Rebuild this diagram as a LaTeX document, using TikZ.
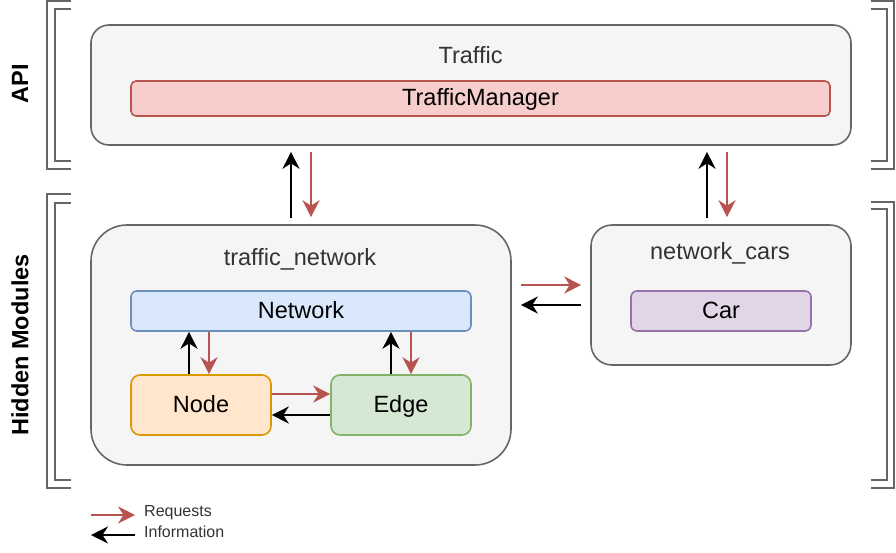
\documentclass[tikz,border=0pt]{standalone}
\usepackage{fontspec}
\setmainfont{Liberation Sans}
\usetikzlibrary{arrows.meta}
\definecolor{contfill}{HTML}{F5F5F5}
\definecolor{contline}{HTML}{666666}
\definecolor{conttext}{HTML}{333333}
\definecolor{redfill}{HTML}{F8CECC}
\definecolor{redline}{HTML}{B85450}
\definecolor{bluefill}{HTML}{DAE8FC}
\definecolor{blueline}{HTML}{6C8EBF}
\definecolor{orangefill}{HTML}{FFE6CC}
\definecolor{orangeline}{HTML}{D79B00}
\definecolor{greenfill}{HTML}{D5E8D4}
\definecolor{greenline}{HTML}{82B366}
\definecolor{purplefill}{HTML}{E1D5E7}
\definecolor{purpleline}{HTML}{9673A6}
\tikzset{
  container/.style={draw=contline, fill=contfill, line width=1.6pt, inner sep=0pt},
  inner/.style={line width=1.6pt, inner sep=0pt, text height=14pt, text depth=0pt,
    font=\fontsize{23.5}{28}\selectfont},
  title/.style={anchor=base, text=conttext, inner sep=0pt, font=\fontsize{23.5}{28}\selectfont},
  sidelabel/.style={rotate=90, inner sep=0pt, font=\fontsize{23.5}{28}\selectfont\bfseries},
  bracket/.style={draw=contline, line width=2pt},
  tipstyle/.style={-{Stealth[length=17pt,width=17pt,inset=5.5pt]}},
  req/.style={tipstyle, draw=redline, line width=2pt},
  info/.style={tipstyle, draw=black, line width=2pt},
  legendtext/.style={anchor=west, inner sep=0pt, text=conttext, font=\fontsize{16}{19}\selectfont},
}
\begin{document}
\begin{tikzpicture}[x=1pt,y=-1pt]
\useasboundingbox (0,0) rectangle (896,552);

% brackets
\draw[bracket] (71,1) -- (47,1) -- (47,169) -- (71,169);
\draw[bracket] (71,9) -- (55,9) -- (55,161) -- (71,161);
\draw[bracket] (871,1) -- (894,1) -- (894,169) -- (871,169);
\draw[bracket] (871,9) -- (887,9) -- (887,161) -- (871,161);
\draw[bracket] (71,194) -- (47,194) -- (47,488) -- (71,488);
\draw[bracket] (71,203) -- (55,203) -- (55,480) -- (71,480);
\draw[bracket] (871,202) -- (894,202) -- (894,488) -- (871,488);
\draw[bracket] (871,209) -- (887,209) -- (887,480) -- (871,480);
\node[sidelabel] (api) at (20,84) {API};
\node[sidelabel] (hidden) at (20,345) {Hidden Modules};

% containers
\node[container, rounded corners=18pt, minimum width=760pt, minimum height=120pt] (traffic) at (471,85) {};
\node[title] (traffictitle) at (470.5,63) {Traffic};
\node[inner, draw=redline, fill=redfill, rounded corners=5pt, minimum width=699pt, minimum height=35pt] (tm) at (480.5,98.5) {TrafficManager};

\node[container, rounded corners=36pt, minimum width=420pt, minimum height=240pt] (tn) at (301,345) {};
\node[title] (tntitle) at (300,265.7) {traffic\_network};
\node[inner, draw=blueline, fill=bluefill, rounded corners=6pt, minimum width=340pt, minimum height=40pt] (network) at (301,311) {Network};
\node[inner, draw=orangeline, fill=orangefill, rounded corners=9pt, minimum width=140pt, minimum height=60pt] (nodeb) at (201,405) {Node};
\node[inner, draw=greenline, fill=greenfill, rounded corners=9pt, minimum width=140pt, minimum height=60pt] (edgeb) at (401,405) {Edge};

\node[container, rounded corners=21pt, minimum width=260pt, minimum height=140pt] (nc) at (721,295) {};
\node[title] (nctitle) at (720,259) {network\_cars};
\node[inner, draw=purpleline, fill=purplefill, rounded corners=6pt, minimum width=180pt, minimum height=40pt] (car) at (721,311) {Car};

% traffic <-> traffic_network
\coordinate (a1) at ([xshift=-10pt]tn.north);
\coordinate (a2) at ([xshift=10pt]tn.north);
\draw[info, shorten <=6pt, shorten >=6pt] (a1) -- (a1 |- traffic.south);
\draw[req, shorten <=6pt, shorten >=7pt] (a2 |- traffic.south) -- (a2);

% traffic <-> network_cars
\coordinate (b1) at ([xshift=-14pt]nc.north);
\coordinate (b2) at ([xshift=6pt]nc.north);
\draw[info, shorten <=6pt, shorten >=6pt] (b1) -- (b1 |- traffic.south);
\draw[req, shorten <=6pt, shorten >=7pt] (b2 |- traffic.south) -- (b2);

% traffic_network <-> network_cars
\coordinate (c1) at ([yshift=60pt]tn.east);
\coordinate (c2) at ([yshift=40pt]tn.east);
\draw[req, shorten <=9pt, shorten >=9pt] (c1) -- (c1 -| nc.west);
\draw[info, shorten <=9pt, shorten >=9pt] (c2 -| nc.west) -- (c2);

% Node <-> Network
\coordinate (d1) at ([xshift=-12pt]nodeb.north);
\coordinate (d2) at ([xshift=8pt]nodeb.north);
\draw[info] (d1) -- (d1 |- network.south);
\draw[req] (d2 |- network.south) -- (d2);

% Edge <-> Network
\coordinate (e1) at ([xshift=-10pt]edgeb.north);
\coordinate (e2) at ([xshift=10pt]edgeb.north);
\draw[info] (e1) -- (e1 |- network.south);
\draw[req] (e2 |- network.south) -- (e2);

% Node <-> Edge
\coordinate (f1) at ([yshift=11pt]nodeb.east);
\coordinate (f2) at ([yshift=-10pt]nodeb.east);
\draw[req] (f1) -- (f1 -| edgeb.west);
\draw[info] (f2 -| edgeb.west) -- (f2);

% legend
\coordinate (l1a) at (91,515);
\coordinate (l1b) at (135,515);
\coordinate (l2a) at (135,535);
\coordinate (l2b) at (91,535);
\draw[req] (l1a) -- (l1b);
\draw[info] (l2a) -- (l2b);
\node[legendtext] (lreq) at (144,512.5) {Requests};
\node[legendtext] (linfo) at (144,532) {Information};
\end{tikzpicture}
\end{document}
